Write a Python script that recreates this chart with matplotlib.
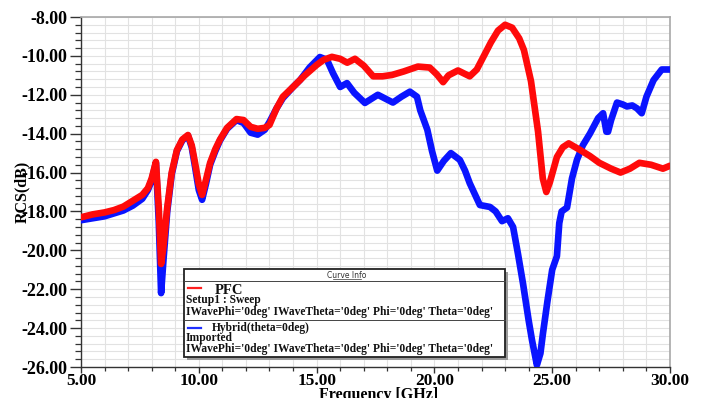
import matplotlib
matplotlib.use("Agg")
import matplotlib.pyplot as plt
from matplotlib.ticker import MultipleLocator, FormatStrFormatter
from matplotlib.patches import Rectangle
from matplotlib.lines import Line2D

plt.rcParams["axes.unicode_minus"] = False

# ---- data -------------------------------------------------------------
pec_freq = [5.0, 5.5, 6.0, 6.4, 6.8, 7.2, 7.6, 7.84, 8.0, 8.18, 8.3, 8.4, 8.5,
            8.66, 8.85, 9.07, 9.3, 9.54, 9.7, 9.84, 10.0, 10.14, 10.3, 10.48,
            10.7, 10.9, 11.2, 11.6, 11.9, 12.2, 12.5, 12.8, 13.0, 13.3, 13.57,
            14.0, 14.5, 15.0, 15.3, 15.65, 16.0, 16.3, 16.63, 17.0, 17.4, 17.8,
            18.2, 18.7, 19.3, 19.8, 20.1, 20.37, 20.6, 21.0, 21.5, 21.8, 22.1,
            22.4, 22.7, 23.0, 23.3, 23.6, 23.8, 24.1, 24.4, 24.6, 24.75, 24.9,
            25.2, 25.45, 25.7, 26.2, 26.6, 27.0, 27.5, 27.9, 28.3, 28.7, 29.2,
            29.7, 30.0]
pec_rcs = [-18.3, -18.15, -18.05, -17.93, -17.75, -17.45, -17.15, -16.8, -16.3,
           -15.45, -17.8, -20.7, -19.8, -17.8, -16.0, -14.85, -14.3, -14.07,
           -14.6, -15.5, -16.6, -17.15, -16.4, -15.5, -14.8, -14.3, -13.7,
           -13.25, -13.3, -13.65, -13.75, -13.7, -13.55, -12.7, -12.1, -11.6,
           -11.0, -10.47, -10.2, -10.05, -10.15, -10.35, -10.15, -10.5, -11.05,
           -11.05, -10.98, -10.8, -10.55, -10.6, -10.95, -11.35, -11.0, -10.75,
           -11.05, -10.7, -10.0, -9.3, -8.7, -8.4, -8.55, -9.1, -9.7, -11.3,
           -13.9, -16.3, -17.0, -16.5, -15.2, -14.7, -14.5, -14.85, -15.15,
           -15.5, -15.8, -16.0, -15.8, -15.5, -15.6, -15.8, -15.65]

hyb_freq = [5.0, 5.5, 6.0, 6.4, 6.8, 7.2, 7.6, 7.84, 8.0, 8.18, 8.3, 8.4, 8.5,
            8.66, 8.85, 9.07, 9.3, 9.54, 9.7, 9.84, 10.0, 10.14, 10.3, 10.48,
            10.7, 10.9, 11.2, 11.6, 11.9, 12.2, 12.5, 12.8, 13.0, 13.3, 13.57,
            14.0, 14.3, 14.7, 15.14, 15.44, 15.7, 16.0, 16.29, 16.6, 17.05,
            17.6, 18.24, 18.6, 18.96, 19.26, 19.4, 19.7, 19.9, 20.12, 20.4,
            20.7, 21.08, 21.3, 21.5, 21.93, 22.36, 22.6, 22.87, 23.12, 23.34,
            23.55, 23.76, 24.0, 24.14, 24.35, 24.5, 24.61, 24.8, 25.0, 25.2,
            25.3, 25.4, 25.63, 25.84, 26.05, 26.3, 26.6, 26.95, 27.16, 27.3,
            27.37, 27.5, 27.75, 28.0, 28.17, 28.4, 28.6, 28.8, 29.0, 29.3,
            29.65, 30.0]
hyb_rcs = [-18.45, -18.35, -18.25, -18.1, -17.95, -17.7, -17.35, -16.9, -16.4,
           -15.5, -18.5, -22.2, -20.5, -18.0, -16.1, -14.9, -14.35, -14.1,
           -14.7, -15.7, -16.9, -17.4, -16.6, -15.6, -14.9, -14.35, -13.75,
           -13.3, -13.45, -13.95, -14.05, -13.8, -13.4, -12.7, -12.17, -11.6,
           -11.24, -10.6, -10.06, -10.2, -10.9, -11.6, -11.4, -11.9, -12.42,
           -12.0, -12.4, -12.1, -11.84, -12.1, -12.8, -13.8, -14.9, -15.9,
           -15.4, -15.0, -15.35, -15.9, -16.55, -17.67, -17.77, -18.0, -18.5,
           -18.35, -18.8, -20.2, -21.7, -23.6, -24.6, -25.9, -25.3, -24.25,
           -22.6, -21.0, -20.3, -18.6, -18.0, -17.8, -16.3, -15.35, -14.6,
           -14.0, -13.2, -12.95, -13.9, -13.9, -13.3, -12.4, -12.5, -12.6,
           -12.55, -12.7, -12.95, -12.1, -11.25, -10.7, -10.7]

x_label = "Frequency [GHz]"
y_label = "RCS(dB)"
legend_title = "Curve Info"
pec_name = "PFC"
pec_src = "Setup1 : Sweep"
hyb_name = "Hybrid(theta=0deg)"
hyb_src = "Imported"
variation = "IWavePhi='0deg' IWaveTheta='0deg' Phi='0deg' Theta='0deg'"

# ---- figure -----------------------------------------------------------
W, H = 704, 398
fig = plt.figure(figsize=(W / 100, H / 100), dpi=100)
serif = "Liberation Serif"

def fx(px):
    return px / W

def fy(py):
    return 1 - py / H

ax = fig.add_axes([fx(81), fy(367), fx(670) - fx(81), fy(17) - fy(367)])

ax.plot(hyb_freq, hyb_rcs, color="#0a14ff", lw=4.8, solid_joinstyle="round",
        solid_capstyle="round", zorder=3)
ax.plot(pec_freq, pec_rcs, color="#ff0a0a", lw=4.8, solid_joinstyle="round",
        solid_capstyle="round", zorder=4)

ax.set_xlim(5, 30)
ax.set_ylim(-26, -8)
ax.xaxis.set_major_locator(MultipleLocator(5))
ax.xaxis.set_minor_locator(MultipleLocator(1))
ax.yaxis.set_major_locator(MultipleLocator(2))
ax.yaxis.set_minor_locator(MultipleLocator(0.4))
ax.xaxis.set_major_formatter(FormatStrFormatter("%.2f"))
ax.yaxis.set_major_formatter(FormatStrFormatter("%.2f"))

ax.grid(which="both", color="#e2e2e2", lw=0.8, zorder=0)
ax.set_axisbelow(True)

for side in ("top", "right"):
    ax.spines[side].set_color("#a8a8a8")
    ax.spines[side].set_linewidth(1.2)
for side in ("left", "bottom"):
    ax.spines[side].set_color("#333333")
    ax.spines[side].set_linewidth(1.0)

ax.tick_params(axis="y", which="major", direction="out", length=8, width=1.0,
               color="#333333", right=False, pad=2)
ax.tick_params(axis="y", which="minor", direction="out", length=4, width=0.9,
               color="#333333", right=False)
ax.tick_params(axis="x", which="major", direction="out", length=4, width=1.0,
               color="#333333", top=False, pad=0.5)
ax.tick_params(axis="x", which="minor", direction="out", length=3, width=0.9,
               color="#333333", top=False)
for lab in ax.get_yticklabels():
    lab.set_fontfamily(serif)
    lab.set_fontweight("bold")
    lab.set_fontsize(13)
for lab in ax.get_xticklabels():
    lab.set_fontfamily(serif)
    lab.set_fontweight("bold")
    lab.set_fontsize(12.5)

fig.text(fx(379), fy(395), x_label, ha="center", va="center",
         family=serif, weight="bold", fontsize=11.5)
fig.text(fx(22), fy(192), y_label, ha="center", va="center", rotation=90,
         family=serif, weight="bold", fontsize=11.5)

# ---- legend box ("Curve Info") ----------------------------------------
bx0, by0, bx1, by1 = 184, 269, 505, 357
shadow = Rectangle((fx(bx0 + 3), fy(by1 + 3)), fx(bx1) - fx(bx0),
                   fy(by0) - fy(by1), transform=fig.transFigure,
                   facecolor="#9a9a9a", edgecolor="none", zorder=9)
box = Rectangle((fx(bx0), fy(by1)), fx(bx1) - fx(bx0), fy(by0) - fy(by1),
                transform=fig.transFigure, facecolor="white",
                edgecolor="#222222", lw=1.3, zorder=10)
fig.patches.extend([shadow, box])

for yy in (281, 320):
    fig.lines.append(Line2D([fx(bx0), fx(bx1)], [fy(yy), fy(yy)],
                            transform=fig.transFigure, color="#444444",
                            lw=0.7, zorder=11))

fig.text(fx(347), fy(275), legend_title, ha="center", va="center",
         family="DejaVu Sans", fontsize=5.5, color="#333333", zorder=12)
fig.lines.append(Line2D([fx(333), fx(361)], [fy(279), fy(279)],
                        transform=fig.transFigure, color="#333333", lw=0.5,
                        zorder=12))

fig.lines.append(Line2D([fx(188), fx(201)], [fy(288), fy(288)],
                        transform=fig.transFigure, color="#ff2020", lw=1.6,
                        zorder=12))
fig.lines.append(Line2D([fx(188), fx(201)], [fy(328), fy(328)],
                        transform=fig.transFigure, color="#2030ff", lw=1.6,
                        zorder=12))

txt = dict(family=serif, weight="bold", ha="left", va="center", zorder=12,
           color="#111111")
fig.text(fx(215), fy(291), pec_name, fontsize=10.5, **txt)
fig.text(fx(186), fy(300), pec_src, fontsize=8.3, **txt)
fig.text(fx(186), fy(312), variation, fontsize=8.3, **txt)
fig.text(fx(212), fy(328), hyb_name, fontsize=8.3, **txt)
fig.text(fx(186), fy(338), hyb_src, fontsize=8.3, **txt)
fig.text(fx(186), fy(349), variation, fontsize=8.3, **txt)

fig.savefig("out.png", dpi=100)
